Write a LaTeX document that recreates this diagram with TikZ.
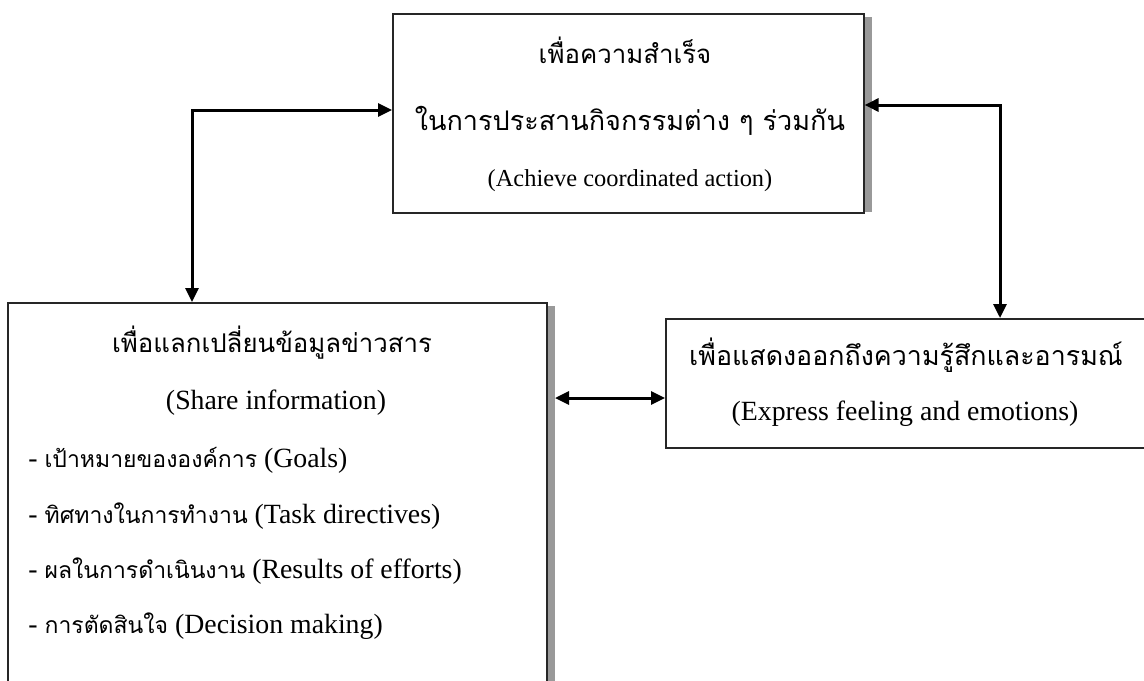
\documentclass[tikz,border=0pt]{standalone}
\usepackage{fontspec}
\setmainfont{Liberation Serif}
\newfontfamily\thai[Script=Thai]{Loma}
\usetikzlibrary{arrows.meta}
\newcommand{\fs}[1]{\fontsize{#1}{#1}\selectfont}
\begin{document}
\begin{tikzpicture}[x=0.5pt,y=-0.5pt,
  box/.style={draw=black!85,line width=0.8pt,fill=white,inner sep=0pt,anchor=north west},
  shadowfill/.style={fill=black!40,draw=none},
  conn/.style={line width=1.5pt,{Triangle[length=7pt,width=6.5pt]}-{Triangle[length=7pt,width=6.5pt]}},
  txt/.style={inner sep=0pt,anchor=base},
  txtl/.style={inner sep=0pt,anchor=base west}]
\path[use as bounding box,clip] (0,0) rectangle (1144,680);
\fill[white] (0,0) rectangle (1144,680);
% shadows
\fill[shadowfill] (855,17) rectangle (872,212);
\fill[shadowfill] (538,306) rectangle (555,720);
% boxes
\node[box,minimum width=235.5pt,minimum height=99.5pt] (top) at (392,13) {};
\node[box,minimum width=269.5pt,minimum height=210pt] (left) at (7,302) {};
\node[box,minimum width=250pt,minimum height=64.5pt] (right) at (665,318) {};
% texts top
\node[txt] (t1) at (625,63) {\thai\fs{12.9pt}เพื่อความสำเร็จ};
\node[txt] (t2) at (630,130) {\thai\fs{13.5pt}ในการประสานกิจกรรมต่าง ๆ ร่วมกัน};
\node[txt] (t3) at (630,186) {\fs{12.2pt}(Achieve coordinated action)};
% texts left
\node[txt] (l1) at (272,352) {\thai\fs{12.9pt}เพื่อแลกเปลี่ยนข้อมูลข่าวสาร};
\node[txt] (l2) at (276,409) {\fs{13.9pt}(Share information)};
\node[txtl] (l3) at (28,467) {\fs{13.9pt}- {\thai\fs{11.5pt}เป้าหมายขององค์การ} (Goals)};
\node[txtl] (l4) at (28,523) {\fs{13.9pt}- {\thai\fs{11.5pt}ทิศทางในการทำงาน} (Task directives)};
\node[txtl] (l5) at (28,578) {\fs{13.9pt}- {\thai\fs{11.5pt}ผลในการดำเนินงาน} (Results of efforts)};
\node[txtl] (l6) at (28,633) {\fs{13.9pt}- {\thai\fs{11.5pt}การตัดสินใจ} (Decision making)};
% texts right
\node[txt] (r1) at (906,365) {\thai\fs{13.4pt}เพื่อแสดงออกถึงความรู้สึกและอารมณ์};
\node[txt] (r2) at (905,420) {\fs{13.9pt}(Express feeling and emotions)};
% connectors
\coordinate (c1) at (192,110);
\coordinate (c2) at (1000,105);
\coordinate (m) at (555,398);
\draw[conn] (left.north -| c1) -- (c1) -- (top.west |- c1);
\draw[conn] (top.east |- c2) -- (c2) -- (right.north -| c2);
\draw[conn] (m) -- (right.west |- m);
\end{tikzpicture}
\end{document}
